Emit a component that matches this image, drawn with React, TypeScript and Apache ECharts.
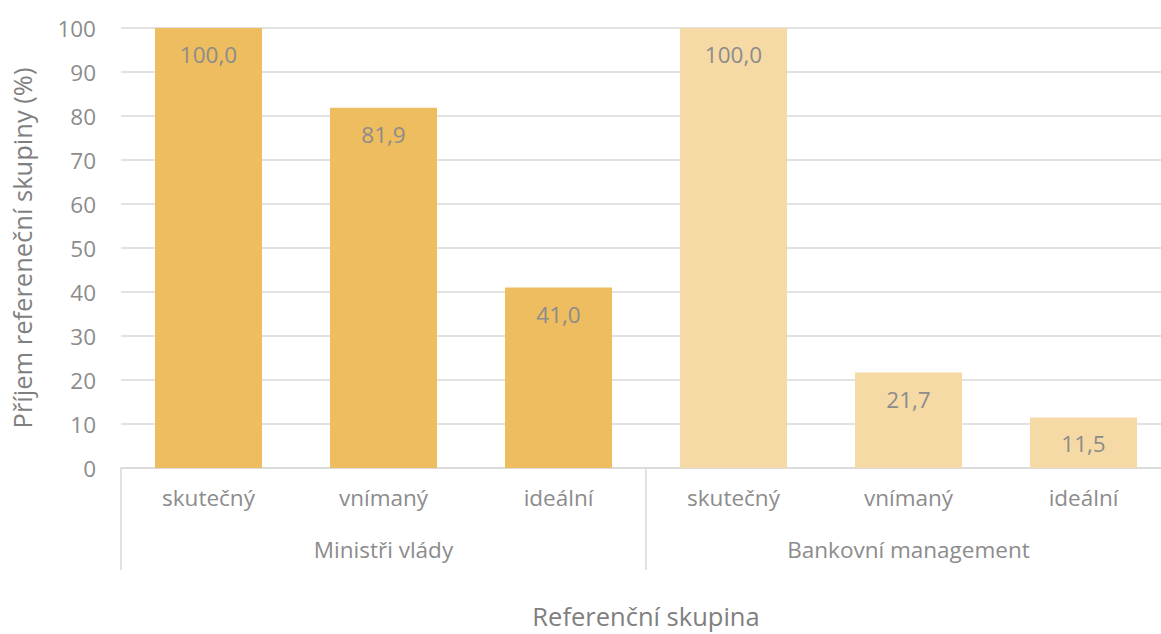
import React, { useEffect, useRef } from "react";
import * as echarts from "echarts";

const categories = ["skutečný", "vnímaný", "ideální", "skutečný", "vnímaný", "ideální"];
const groups = ["Ministři vlády", "Bankovní management"];
const groupOfBar = [0, 0, 0, 1, 1, 1];
const values = [100.0, 81.9, 41.0, 100.0, 21.7, 11.5];
const groupColors = ["#EDBD5F", "#F5DAA5"];
const yTicks = { min: 0, max: 100, interval: 10 };

const FONT = "'Open Sans', 'Noto Sans', sans-serif";

export default function App() {
  const ref = useRef<HTMLDivElement>(null);
  useEffect(() => {
    document.body.style.margin = "0";
    const chart = echarts.init(ref.current!, undefined, { renderer: "svg" });
    chart.setOption({
      animation: false,
      textStyle: { fontFamily: FONT },
      grid: { left: 121, top: 28, bottom: 165, right: 0, containLabel: false },
      xAxis: [
        {
          type: "category",
          data: categories,
          position: "bottom",
          axisLine: { show: true, lineStyle: { color: "#d9d9d9", width: 1.5 } },
          axisTick: { show: false },
          axisLabel: { color: "#8c8c8c", fontSize: 22.5, margin: 18, fontFamily: FONT, interval: 0 },
          name: "Referenční skupina",
          nameLocation: "middle",
          nameGap: 135,
          nameTextStyle: { color: "#7f7f7f", fontSize: 25.5, fontFamily: FONT },
        },
        {
          type: "category",
          data: groups,
          position: "bottom",
          axisLine: { show: false },
          axisTick: { show: true, length: 102, lineStyle: { color: "#d9d9d9", width: 1.5 } },
          axisLabel: { color: "#8c8c8c", fontSize: 22.5, margin: 70, fontFamily: FONT, interval: 0 },
        },
      ],
      yAxis: {
        type: "value",
        min: yTicks.min,
        max: yTicks.max,
        interval: yTicks.interval,
        axisLine: { show: false },
        axisTick: { show: false },
        splitLine: { lineStyle: { color: "#d9d9d9", width: 1.5 } },
        axisLabel: { color: "#8c8c8c", fontSize: 22.5, margin: 25, fontFamily: FONT },
        name: "Příjem refereneční skupiny (%)",
        nameLocation: "middle",
        nameGap: 86,
        nameTextStyle: { color: "#7f7f7f", fontSize: 25.5, fontFamily: FONT },
      },
      series: [
        {
          type: "bar",
          xAxisIndex: 0,
          barWidth: 107,
          data: values.map((v, i) => ({
            value: v,
            itemStyle: { color: groupColors[groupOfBar[i]] },
          })),
          label: {
            show: true,
            position: "insideTop",
            distance: 15,
            color: "#8c8c8c",
            fontSize: 22.5,
            fontFamily: FONT,
            formatter: (p: any) => p.value.toFixed(1).replace(".", ","),
          },
        },
      ],
    });
    return () => chart.dispose();
  }, []);
  return (
    <div style={{ position: "absolute", left: 0, top: 0, width: 1161, height: 634, overflow: "hidden" }}>
      <div ref={ref} style={{ width: 1171, height: 634 }} />
    </div>
  );
}
